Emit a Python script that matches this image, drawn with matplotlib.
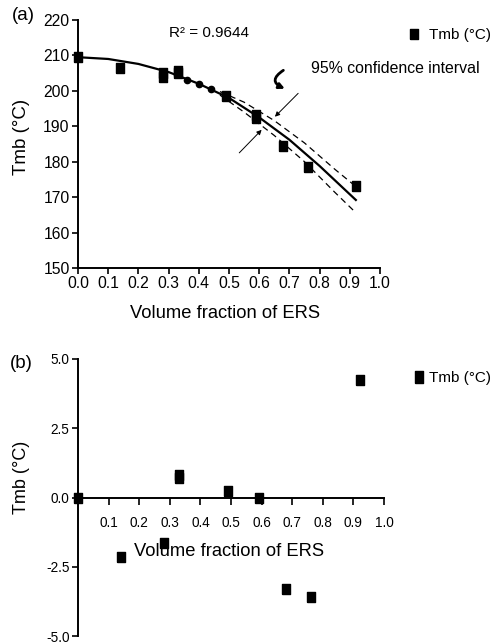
import matplotlib
matplotlib.use("Agg")
import matplotlib.pyplot as plt
from matplotlib.lines import Line2D

plt.rcParams["font.family"] = ["Liberation Sans", "DejaVu Sans"]

# panel (a): measured Tmb
vol_frac = [0.0, 0.14, 0.28, 0.28, 0.33, 0.33, 0.49, 0.59, 0.59, 0.68, 0.76, 0.92]
tmb = [209.5, 206.5, 204.0, 205.0, 205.0, 205.6, 198.5, 193.2, 192.3, 184.3, 178.4, 173.1]
vol_frac_small = [0.36, 0.40, 0.44]
tmb_small = [203.2, 201.8, 200.4]

# fitted curve and 95% band
fit_x = [0.0, 0.1, 0.2, 0.3, 0.4, 0.5, 0.6, 0.7, 0.8, 0.92]
fit_y = [209.5, 209.0, 207.6, 205.3, 202.0, 198.0, 192.5, 186.2, 178.8, 169.2]
band_x = [0.47, 0.55, 0.65, 0.75, 0.85, 0.92]
band_hi = [199.8, 196.8, 191.6, 185.3, 177.9, 173.0]
band_lo = [198.8, 194.0, 187.4, 180.0, 171.4, 165.6]

# panel (b): residuals
res_x = [0.0, 0.14, 0.28, 0.33, 0.33, 0.49, 0.59, 0.68, 0.76, 0.92]
res_y = [0.0, -2.15, -1.65, 0.70, 0.80, 0.22, -0.03, -3.30, -3.58, 4.25]

xticks_a = [0.0, 0.1, 0.2, 0.3, 0.4, 0.5, 0.6, 0.7, 0.8, 0.9, 1.0]
yticks_a = [150, 160, 170, 180, 190, 200, 210, 220]
xticks_b = [0.1, 0.2, 0.3, 0.4, 0.5, 0.6, 0.7, 0.8, 0.9, 1.0]
yticks_b = [-5.0, -2.5, 0.0, 2.5, 5.0]

W, H = 494, 643
rect = [(-0.37, -0.5), (0.37, -0.5), (0.37, 0.5), (-0.37, 0.5), (-0.37, -0.5)]


def px(x0, y0, x1, y1):
    # pixel box (top-left origin) -> figure fraction rect
    return [x0 / W, 1 - y1 / H, (x1 - x0) / W, (y1 - y0) / H]


def style(ax, size):
    for s in ["top", "right"]:
        ax.spines[s].set_visible(False)
    for s in ["left", "bottom"]:
        ax.spines[s].set_linewidth(1.4)
    ax.tick_params(width=1.2, labelsize=size, colors="black")


fig = plt.figure(figsize=(W / 100, H / 100), dpi=100)

# ---- (a)
ax = fig.add_axes(px(78, 20, 380, 268))
style(ax, 11.3)
ax.tick_params(axis="both", length=4, pad=2)
ax.set_xlim(0, 1.0)
ax.set_ylim(150, 220)
ax.set_xticks(xticks_a)
ax.set_xticklabels([f"{v:.1f}" for v in xticks_a])
ax.set_yticks(yticks_a)

ax.plot(fit_x, fit_y, color="black", lw=1.6, zorder=3)
ax.plot(band_x, band_hi, color="black", lw=0.9, dashes=(5, 3.5))
ax.plot(band_x, band_lo, color="black", lw=0.9, dashes=(5, 3.5))
ax.plot(vol_frac, tmb, ls="none", marker=rect, ms=7.5, color="black",
        clip_on=False, zorder=4, label="Tmb (°C)")
ax.plot(vol_frac_small, tmb_small, ls="none", marker="o", ms=4.5,
        color="black", zorder=4)

ax.text(0.3, 216.2, "R² = 0.9644", fontsize=11, va="center")
ax.text(0.77, 206.3, "95% confidence interval", fontsize=11.4, va="center",
        clip_on=False)
ax.annotate("", xy=(0.652, 192.7), xytext=(0.729, 199.3),
            arrowprops=dict(arrowstyle="-|>", lw=0.7, color="black",
                            mutation_scale=7, shrinkA=0, shrinkB=0))
ax.annotate("", xy=(0.608, 189.0), xytext=(0.534, 182.5),
            arrowprops=dict(arrowstyle="-|>", lw=0.7, color="black",
                            mutation_scale=7, shrinkA=0, shrinkB=0))
# curly arrow
ax.annotate("", xy=(0.685, 200.6), xytext=(0.680, 205.8),
            arrowprops=dict(arrowstyle="-|>", lw=2.0, color="black",
                            mutation_scale=8, shrinkA=0, shrinkB=0,
                            connectionstyle="arc3,rad=0.9"))

fig.legend(handles=[Line2D([], [], ls="none", marker=rect, ms=7.5, color="black")],
           labels=["Tmb (°C)"], loc="center left",
           bbox_to_anchor=(409 / W, 1 - 35 / H), frameon=False,
           fontsize=11, handlelength=0.7, handletextpad=0.6, borderpad=0,
           borderaxespad=0)

fig.text(12 / W, 1 - 16 / H, "(a)", fontsize=13.5, va="center")
fig.text(22 / W, 1 - 137 / H, "Tmb (°C)", fontsize=13.5, rotation=90,
         va="center", ha="center")
fig.text(225 / W, 1 - 313 / H, "Volume fraction of ERS", fontsize=13.2,
         va="center", ha="center")

# ---- (b)
bx = fig.add_axes(px(78, 359, 384, 636))
style(bx, 9.8)
bx.spines["bottom"].set_position(("data", 0))
bx.tick_params(axis="x", length=5, pad=8)
bx.tick_params(axis="y", length=4, pad=2)
bx.set_xlim(0, 1.0)
bx.set_ylim(-5, 5)
bx.set_xticks(xticks_b)
bx.set_xticklabels([f"{v:.1f}" for v in xticks_b])
bx.set_yticks(yticks_b)
bx.set_yticklabels([f"{v:.1f}" for v in yticks_b])

bx.plot(res_x, res_y, ls="none", marker=rect, ms=7.5, color="black",
        clip_on=False, zorder=4)

fig.legend(handles=[Line2D([], [], ls="none", marker=rect, ms=8, color="black")],
           labels=["Tmb (°C)"], loc="center left",
           bbox_to_anchor=(414 / W, 1 - 378 / H), frameon=False,
           fontsize=11, handlelength=0.6, handletextpad=0.35, borderpad=0,
           borderaxespad=0)

fig.text(10 / W, 1 - 363 / H, "(b)", fontsize=13.5, va="center")
fig.text(22 / W, 1 - 477 / H, "Tmb (°C)", fontsize=13, rotation=90,
         va="center", ha="center")
fig.text(229 / W, 1 - 552 / H, "Volume fraction of ERS", fontsize=13.2,
         va="center", ha="center")

fig.savefig("out.png", dpi=100)
